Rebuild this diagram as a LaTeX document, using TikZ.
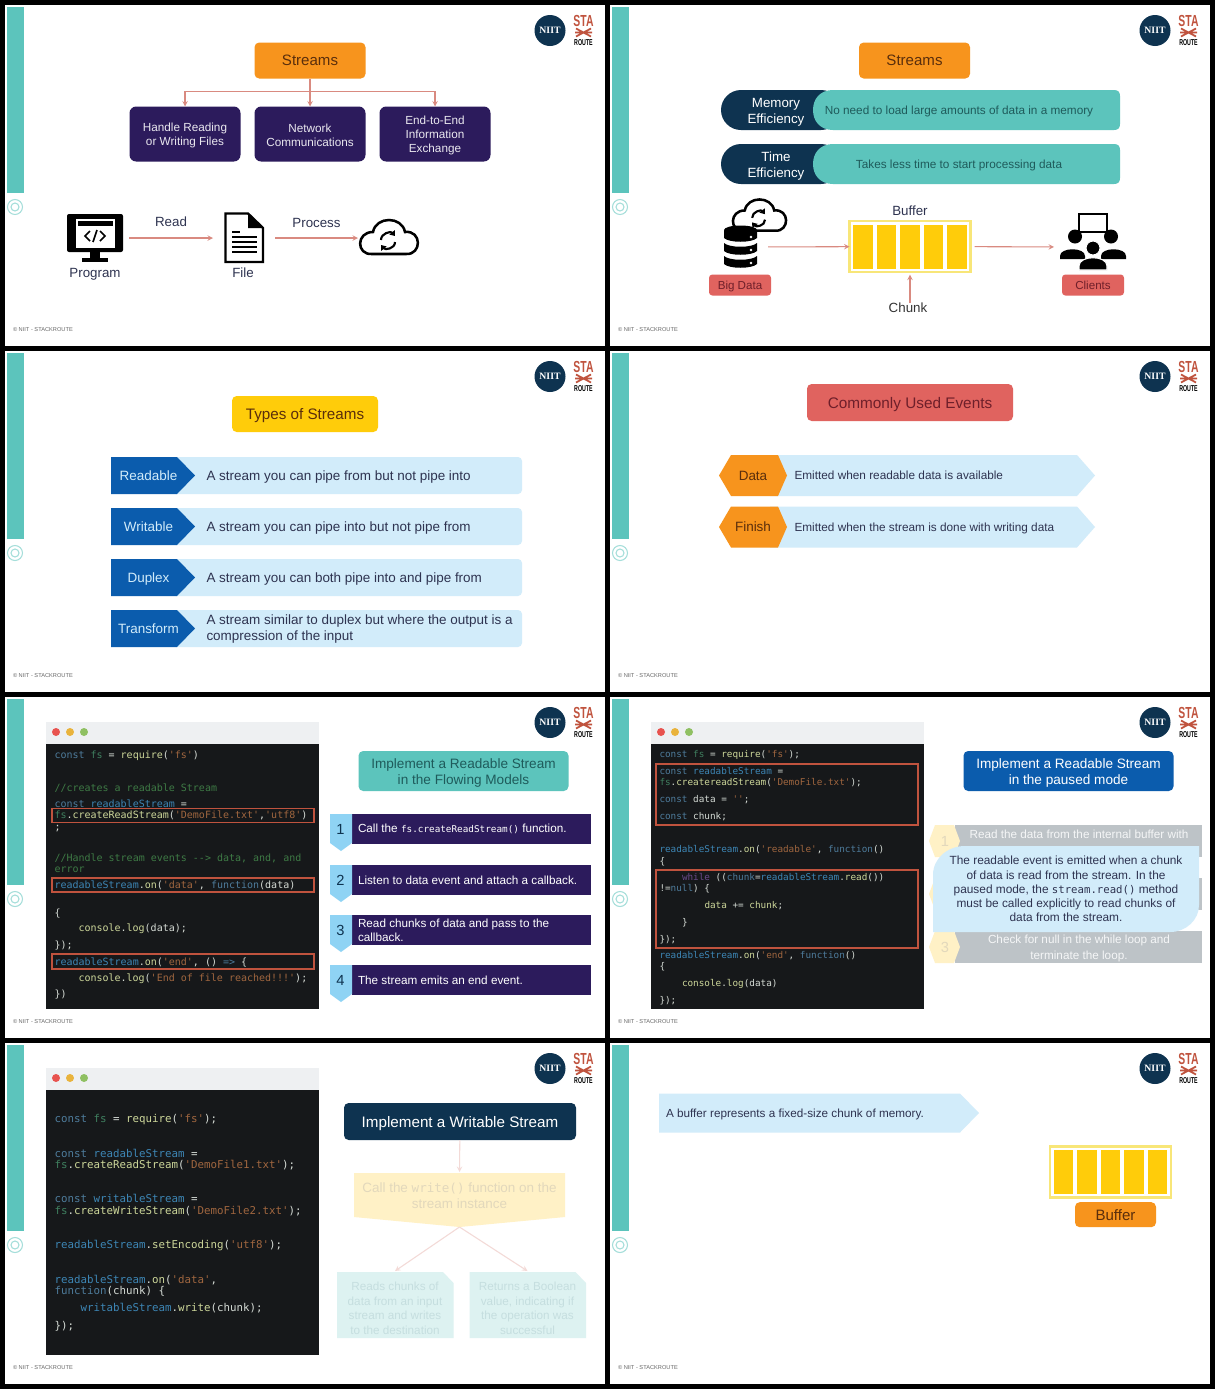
\documentclass[tikz,border=0pt]{standalone}
\usepackage{fontspec}
\setmainfont{Liberation Sans}
\setmonofont{DejaVu Sans Mono}
\newfontfamily\logofont{Liberation Serif}
\usepackage{tikz}
\usetikzlibrary{positioning, arrows.meta}

\definecolor{teal_bar}{HTML}{5CC4BC}
\definecolor{teal_ring}{HTML}{A5DEDA}
\definecolor{teal_ink}{HTML}{1F5B5B}
\definecolor{navy_dark}{HTML}{0E3350}
\definecolor{purple_dark}{HTML}{2C1B5C}
\definecolor{orange_box}{HTML}{F7941D}
\definecolor{orange_ink}{HTML}{5A2E0C}
\definecolor{yellow_box}{HTML}{FFCC0A}
\definecolor{yellow_rim}{HTML}{F8E678}
\definecolor{red_box}{HTML}{E0635F}
\definecolor{red_ink}{HTML}{6E1F2A}
\definecolor{blue_box}{HTML}{0B5CAD}
\definecolor{blue_pale}{HTML}{D2ECFA}
\definecolor{blue_tab}{HTML}{8FD3F4}
\definecolor{slate_ink}{HTML}{2E3350}
\definecolor{edge_red}{HTML}{D98A80}
\definecolor{edge_pale}{HTML}{F3DAD7}
\definecolor{code_bg}{HTML}{16181A}
\definecolor{code_bar}{HTML}{EEF0F2}
\definecolor{code_txt}{HTML}{D5DBD5}
\definecolor{code_kw}{HTML}{4E7C9C}
\definecolor{code_vr}{HTML}{3F7F5F}
\definecolor{code_id}{HTML}{3D86B5}
\definecolor{code_st}{HTML}{A0663F}
\definecolor{code_cm}{HTML}{3E7A45}
\definecolor{code_fn}{HTML}{CDD79A}
\definecolor{code_wh}{HTML}{6A4A8A}
\definecolor{mark_red}{HTML}{C0533E}
\definecolor{gray_row}{HTML}{BDC3C7}
\definecolor{yellow_pale}{HTML}{FFF1C6}
\definecolor{yellow_txt}{HTML}{E2D8BC}
\definecolor{note_pale}{HTML}{DDF2F1}
\definecolor{note_txt}{HTML}{C5DEDF}
\definecolor{dot_red}{HTML}{E8534F}
\definecolor{dot_amber}{HTML}{E9B33C}
\definecolor{dot_green}{HTML}{8FC062}

\newcommand{\sz}[2]{\fontsize{#1}{#2}\selectfont}
\newcommand{\liftline}{\rule{0pt}{0.98em}}
\newcommand{\cKw}[1]{\textcolor{code_kw}{#1}}
\newcommand{\cVr}[1]{\textcolor{code_vr}{#1}}
\newcommand{\cId}[1]{\textcolor{code_id}{#1}}
\newcommand{\cSt}[1]{\textcolor{code_st}{#1}}
\newcommand{\cCm}[1]{\textcolor{code_cm}{#1}}
\newcommand{\cFn}[1]{\textcolor{code_fn}{#1}}

\newcommand{\slideframe}[3]{
  \begin{scope}[shift={(#1,#2)}]
    \node[fill=white, box={600}{341}] (Page#3) at (305,175.5) {};
    \node[fill=teal_bar, box={17}{186}] (Bar#3) at (15.5,100) {};
    \node[circle, draw=teal_ring, line width=0.8pt, box={15}{15}] (Ring#3) at (15,207) {};
    \node[circle, draw=teal_ring, line width=0.8pt, box={8}{8}] (Dot#3) at (15,207) {};
    \node[circle, fill=navy_dark, box={31}{31}, text=white, font=\logofont\bfseries\sz{7.3pt}{8pt}] (Niit#3) at (550,30.5) {NIIT};
    \node[text=mark_red, font=\bfseries\sz{12pt}{12pt}] (Sta#3) at (583.5,21) {\scalebox{.65}[1]{STA}};
    \draw[mark_red, line width=1.3pt] (576,28.5) -- (591,36.5) (591,28.5) -- (576,36.5) (575,32.5) -- (592,32.5);
    \node[text=black, font=\bfseries\sz{6.4pt}{7pt}] (Route#3) at (583.5,42.5) {\scalebox{.62}[1]{ROUTE}};
    \node[anchor=west, text=black!60, font=\sz{4.25pt}{5pt}] (Foot#3) at (13,329.5) {© NIIT - STACKROUTE};
  \end{scope}
}
\newcommand{\cloudicon}[4]{
  \begin{scope}[shift={(#2,#3)}, scale=#4]
    \coordinate (#1) at (0,0);
    \draw[fill=white, line width=1.9pt] (-17,16) .. controls (-33,17) and (-33,-6) .. (-16,-6) .. controls (-13,-22) and (13,-22) .. (16,-6) .. controls (33,-8) and (33,17) .. (17,16) -- cycle;
    \draw[sync_arrow] (-8,2) .. controls (-8,-5) and (2,-7) .. (6,-2);
    \draw[sync_arrow] (6,4) .. controls (6,11) and (-4,12) .. (-8,7);
  \end{scope}
}
\newcommand{\bufferbars}[3]{
  \node[draw=yellow_rim, fill=white, line width=1.6pt, box={121}{51}] (#1) at (#2,#3) {};
  \begin{scope}[shift={(#2,#3)}]
    \fill[yellow_box] (-57,-22) rectangle (-37.5,22);
    \fill[yellow_box] (-33.5,-22) rectangle (-14,22);
    \fill[yellow_box] (-10,-22) rectangle (9.5,22);
    \fill[yellow_box] (13.5,-22) rectangle (33,22);
    \fill[yellow_box] (37,-22) rectangle (56.5,22);
  \end{scope}
}
\newcommand{\dbring}[1]{
  \fill (724,#1) -- (724,#1+8) .. controls (729,#1+13) and (752,#1+13) .. (757,#1+8) -- (757,#1) .. controls (752,#1+5) and (729,#1+5) .. (724,#1) -- cycle;
  \fill[white] (751,#1+7) circle[radius=1.3];
}
\newcommand{\pillrow}[4]{
  \node[fill=navy_dark, rounded corners=15pt, box={120}{40}] (#1) at (781,#2) {};
  \begin{scope}[shift={(0,#2)}]
    \fill[teal_bar] (833,-20) -- (1114,-20) .. controls (1118,-20) and (1120,-18) .. (1120,-14) -- (1120,14) .. controls (1120,18) and (1118,20) .. (1114,20) -- (833,20) .. controls (820,20) and (813,11) .. (813,0) .. controls (813,-11) and (820,-20) .. (833,-20) -- cycle;
  \end{scope}
  \node[text=white, align=center, font=\sz{10pt}{12.2pt}] (#1Head) at (776,#2) {\liftline#3};
  \node[text=teal_ink, text depth=0pt, font=\sz{8.83pt}{10pt}] (#1Text) at (959,#2) {#4};
}
\newcommand{\typerow}[5][text depth=0pt]{
  \node[fill=blue_pale, rounded corners=3pt, box={350}{37}] (#2Back) at (347,#3) {};
  \begin{scope}[shift={(0,#3)}]
    \fill[blue_box] (111,-18.5) -- (177,-18.5) -- (195,0) -- (177,18.5) -- (111,18.5) -- cycle;
  \end{scope}
  \node[text=blue_pale, text depth=0pt, font=\sz{10.1pt}{12pt}] (#2) at (148.5,#3) {#4};
  \node[anchor=west, align=left, #1, text=slate_ink, font=\sz{10.1pt}{12.3pt}] (#2Text) at (206.5,#3) {#5};
}
\newcommand{\eventrow}[4]{
  \begin{scope}[shift={(0,#2)}]
    \fill[blue_pale] (770,-20.5) -- (1077,-20.5) -- (1095,0) -- (1077,20.5) -- (770,20.5) -- cycle;
    \fill[orange_box] (719,0) -- (731,-20.5) -- (778,-20.5) -- (787,0) -- (778,20.5) -- (731,20.5) -- cycle;
  \end{scope}
  \node[text=orange_ink, text depth=0pt, font=\sz{10.1pt}{12pt}] (#1) at (753,#2) {#3};
  \node[anchor=west, text depth=0pt, text=slate_ink, font=\sz{8.85pt}{10pt}] (#1Text) at (794.5,#2) {#4};
}
\newcommand{\stepbar}[4]{
  \node[fill=purple_dark, box={239}{30}] (#1) at (471.5,#2+15) {};
  \begin{scope}[shift={(0,#2)}]
    \fill[blue_tab] (330,0) -- (352,0) -- (352,29) -- (341,37) -- (330,29) -- cycle;
  \end{scope}
  \node[text=navy_dark, font=\sz{11pt}{12pt}] (#1Num) at (340.5,#2+15) {#3};
  \node[anchor=west, align=left, text=white, font=\sz{8.8pt}{10.7pt}] (#1Text) at (358,#2+15) {#4};
}
\newcommand{\pausedrow}[4]{
  \node[fill=gray_row, box={247}{32}] (#1) at (1078.5,#2) {};
  \begin{scope}[shift={(0,#2)}]
    \fill[yellow_pale] (929,0) -- (935,-16) -- (954,-16) -- (960,0) -- (954,16) -- (935,16) -- cycle;
  \end{scope}
  \node[text=yellow_txt, font=\sz{11pt}{12pt}] (#1Num) at (945,#2) {#3};
  \node[align=center, text=white!85!gray_row, font=\sz{8.8pt}{11.8pt}] (#1Text) at (1079,#2) {\liftline#4};
}
\newcommand{\notebox}[4]{
  \begin{scope}[shift={(#2,0)}]
    \fill[note_pale] (0,1272) -- (106,1272) -- (116.5,1283) -- (116.5,1338) -- (0,1338) -- cycle;
  \end{scope}
  \node[align=center, text=note_txt, font=\sz{8.8pt}{10.9pt}] (#1Text) at (#3,1308.5) {#4};
  \coordinate (#1) at (#3,1271);
}

\begin{document}
\begin{tikzpicture}[
    x=0.75pt, y=-0.75pt,
    inner sep=0pt, outer sep=0pt,
    box/.style 2 args={minimum width=#1*0.75pt, minimum height=#2*0.75pt},
    round_box/.style={rounded corners=3.5pt},
    stream_box/.style={round_box, fill=orange_box, text=orange_ink, box={111}{36}, font=\sz{11.3pt}{13pt}},
    use_box/.style={rounded corners=5pt, fill=purple_dark, text=white!90!purple_dark, box={111}{55}, align=center, font=\sz{8.8pt}{10.7pt}},
    tag_box/.style={rounded corners=2.5pt, fill=red_box, text=red_ink, text depth=0pt, box={62}{21}, font=\sz{8.7pt}{10pt}},
    title_box/.style={round_box, box={210}{40}, align=center, font=\sz{10.2pt}{12.3pt}},
    plain_label/.style={text=slate_ink, text depth=0pt, font=\sz{10pt}{12pt}},
    ghost_node/.style={box={#1}{50}},
    edge_flow/.style={->, >=stealth, draw=edge_red, line width=0.8pt},
    edge_faint/.style={->, >=stealth, draw=edge_pale, line width=0.8pt},
    sync_arrow/.style={-{Triangle[length=3.5pt,width=5pt]}, line width=1.6pt},
    code_line/.style={anchor=base west, text=code_txt},
    code_small/.style={code_line, font=\ttfamily\sz{7pt}{8pt}},
    code_mid/.style={code_line, font=\ttfamily\sz{7.5pt}{9pt}},
    code_big/.style={code_line, font=\ttfamily\sz{8.1pt}{9pt}},
    code_mark/.style={draw=mark_red, line width=0.8pt}
  ]
  \fill[black] (0,0) rectangle (1215,1389);
  \useasboundingbox (0,0) rectangle (1215,1389);
  \slideframe{0}{0}{A}
  \slideframe{605}{0}{B}
  \slideframe{0}{346}{C}
  \slideframe{605}{346}{D}
  \slideframe{0}{692}{E}
  \slideframe{605}{692}{F}
  \slideframe{0}{1038}{G}
  \slideframe{605}{1038}{H}

  \node[stream_box] (Streams) at (310,60.5) {Streams};
  \node[use_box, below=21pt of Streams] (Network) {\liftline Network\\Communications};
  \node[use_box, left=10.5pt of Network] (Handle) {\liftline Handle Reading\\or Writing Files};
  \node[use_box, right=10.5pt of Network] (EndToEnd) {\liftline End-to-End\\Information\\Exchange};
  \coordinate (Fork) at (310,91.5);
  \draw[edge_flow] (Streams) -- (Network);
  \draw[edge_flow] (Fork) -| (Handle);
  \draw[edge_flow] (Fork) -| (EndToEnd);

  \node[ghost_node=68] (Program) at (95,238) {};
  \node[ghost_node=62] (File) at (244,238) {};
  \node[ghost_node=62] (Cloud) at (389,238) {};
  \node[plain_label] (ProgramText) at (95,272.5) {Program};
  \node[plain_label] (FileText) at (243,272.5) {File};
  \draw[edge_flow] (Program) -- node[plain_label, above=8.5pt] (ReadText) {Read} (File);
  \draw[edge_flow] (File) -- node[plain_label, above=8pt] (ProcessText) {Process} (Cloud);
  \fill[rounded corners=1.5pt] (67,214) rectangle (123,252);
  \fill[white] (75.5,219) rectangle (115,248);
  \fill (77.5,220.5) rectangle (113,226);
  \fill (90,252) rectangle (100,258);
  \fill (82,258) rectangle (108,262);
  \draw[line width=1.3pt] (90,231) -- (85,236) -- (90,241) (93,242) -- (97,230) (100,231) -- (105,236) -- (100,241);
  \draw[line width=1.8pt] (225.5,213.5) -- (248,213.5) -- (263,228) -- (263,262) -- (225.5,262) -- cycle;
  \fill (248,213.5) -- (248,228) -- (263,228) -- cycle;
  \draw[line width=1.2pt] (232,232) -- (240,232) (232,237) -- (257,237) (232,242) -- (257,242) (232,247) -- (257,247) (232,252) -- (257,252);
  \cloudicon{CloudIcon}{389}{238}{1}

  \node[stream_box] (StreamsB) at (914.5,60.5) {Streams};
  \pillrow{Memory}{110}{Memory\\Efficiency}{No need to load large amounts of data in a memory}
  \pillrow{Time}{164}{Time\\Efficiency}{Takes less time to start processing data}
  \cloudicon{CloudB}{759.5}{216}{0.92}
  \dbring{256}
  \dbring{243}
  \dbring{230}
  \fill (740.5,230) ellipse[x radius=16.5, y radius=4.5];
  \node[ghost_node=55] (Data) at (740.5,247) {};
  \node[tag_box] (BigData) at (740,285) {Big Data};
  \bufferbars{Buf}{910}{246.5}
  \node[plain_label, above=4pt of Buf] (BufText) {Buffer};
  \node[plain_label, text=black!80] (Chunk) at (908,308) {Chunk};
  \node[ghost_node=78] (Clients) at (1093,247) {};
  \node[tag_box] (ClientsTag) at (1093,285) {Clients};
  \draw[line width=1.8pt] (1079,214) rectangle (1107,232);
  \fill (1075,236.5) circle[radius=7];
  \fill (1111,236.5) circle[radius=7];
  \fill (1060,259) -- (1060,256) .. controls (1060,247) and (1085,247) .. (1085,256) -- (1085,259) -- cycle;
  \fill (1101,259) -- (1101,256) .. controls (1101,247) and (1126,247) .. (1126,256) -- (1126,259) -- cycle;
  \fill[draw=white, line width=0.8pt] (1079,270) -- (1079,266) .. controls (1079,255) and (1107,255) .. (1107,266) -- (1107,270) -- cycle;
  \fill[draw=white, line width=0.8pt] (1093,248) circle[radius=7];
  \draw[edge_flow] (Data) -- (Buf);
  \draw[edge_flow, shorten <=3pt] (Buf) -- (Clients);
  \draw[edge_flow, shorten >=2pt] (Chunk.north -| Buf.south) -- (Buf.south);

  \node[round_box, fill=yellow_box, text=orange_ink, text depth=0pt, box={146}{36}, font=\sz{11.4pt}{13pt}] (Types) at (305,414) {Types of Streams};
  \typerow{Readable}{475.5}{Readable}{A stream you can pipe from but not pipe into}
  \typerow{Writable}{526.5}{Writable}{A stream you can pipe into but not pipe from}
  \typerow{Duplex}{577.5}{Duplex}{A stream you can both pipe into and pipe from}
  \typerow[yshift=-0.6pt]{Transform}{628.5}{Transform}{A stream similar to duplex but where the output is a\\compression of the input}

  \node[round_box, fill=red_box, text=red_ink, text depth=0pt, box={206}{37}, font=\sz{11.5pt}{13pt}] (Events) at (910,402.5) {Commonly Used Events};
  \eventrow{DataEv}{475.5}{Data}{Emitted when readable data is available}
  \eventrow{FinishEv}{527}{Finish}{Emitted when the stream is done with writing data}

  \node[fill=code_bar, box={273}{22}] (BarE) at (182.5,733) {};
  \node[fill=code_bg, box={273}{265}] (CodeE) at (182.5,876.5) {};
  \fill[dot_red] (56,732) circle[radius=4];
  \fill[dot_amber] (70,732) circle[radius=4];
  \fill[dot_green] (84,732) circle[radius=4];
  \node[code_mid] (LineE1) at (54.5,758) {\cKw{const} \cVr{fs} = \cFn{require}(\cSt{'fs'})};
  \node[code_mid, text=code_cm] (LineE2) at (54.5,791) {//creates a readable Stream};
  \node[code_mid] (LineE3) at (54.5,807) {\cKw{const} \cId{readableStream} =};
  \node[code_mid] (LineE4) at (54.5,818) {\cVr{fs}.\cFn{createReadStream}(\cSt{'DemoFile.txt'},\cSt{'utf8'})};
  \node[code_mid] (LineE5) at (54.5,830) {;};
  \node[code_mid, text=code_cm] (LineE6) at (54.5,861) {//Handle stream events --> data, and, and};
  \node[code_mid, text=code_cm] (LineE7) at (54.5,872) {error};
  \node[code_mid] (LineE8) at (54.5,888) {\cId{readableStream}.\cFn{on}(\cSt{'data'}, \cKw{function}(data)};
  \node[code_mid] (LineE9) at (54.5,916) {\{};
  \node[code_mid] (LineE10) at (78.5,931) {\cFn{console}.\cFn{log}(data);};
  \node[code_mid] (LineE11) at (54.5,948) {\});};
  \node[code_mid] (LineE12) at (54.5,965) {\cId{readableStream}.\cFn{on}(\cSt{'end'}, () \cKw{=>} \{};
  \node[code_mid] (LineE13) at (78.5,981) {\cFn{console}.\cFn{log}(\cSt{'End of file reached!!!'});};
  \node[code_mid] (LineE14) at (54.5,997) {\})};
  \node[code_mark, box={262}{14}] (MarkE1) at (183,815.5) {};
  \node[code_mark, box={262}{14}] (MarkE2) at (183,885) {};
  \node[code_mark, box={262}{15}] (MarkE3) at (183,961.5) {};
  \node[title_box, fill=teal_bar, text=teal_ink] (TitleE) at (463.5,771) {\liftline Implement a Readable Stream\\in the Flowing Models};
  \stepbar{StepA}{814}{1}{Call the {\ttfamily\sz{7pt}{8pt}fs.createReadStream()} function.}
  \stepbar{StepB}{865}{2}{Listen to data event and attach a callback.}
  \stepbar{StepC}{915}{3}{Read chunks of data and pass to the\\callback.}
  \stepbar{StepD}{965}{4}{The stream emits an end event.}

  \node[fill=code_bar, box={273}{22}] (BarF) at (787.5,733) {};
  \node[fill=code_bg, box={273}{265}] (CodeF) at (787.5,876.5) {};
  \fill[dot_red] (661,732) circle[radius=4];
  \fill[dot_amber] (675,732) circle[radius=4];
  \fill[dot_green] (689,732) circle[radius=4];
  \node[code_small] (LineF1) at (659.5,757) {\cKw{const} \cVr{fs} = \cFn{require}(\cSt{'fs'});};
  \node[code_small] (LineF2) at (659.5,774) {\cKw{const} \cId{readableStream} =};
  \node[code_small] (LineF3) at (659.5,785) {\cVr{fs}.\cFn{createreadStream}(\cSt{'DemoFile.txt'});};
  \node[code_small] (LineF4) at (659.5,802) {\cKw{const} data = \cSt{''};};
  \node[code_small] (LineF5) at (659.5,819) {\cKw{const} chunk;};
  \node[code_small] (LineF6) at (659.5,852) {\cId{readableStream}.\cFn{on}(\cSt{'readable'}, \cKw{function}()};
  \node[code_small] (LineF7) at (659.5,864) {\{};
  \node[code_small] (LineF8) at (682,880) {\textcolor{code_wh}{while} ((\cKw{chunk}=\cId{readableStream}.\cFn{read}())};
  \node[code_small] (LineF9) at (659.5,891) {!=\cKw{null}) \{};
  \node[code_small] (LineF10) at (704.5,908) {\cFn{data} += \cFn{chunk};};
  \node[code_small] (LineF11) at (682,925) {\}};
  \node[code_small] (LineF12) at (659.5,942) {\});};
  \node[code_small] (LineF13) at (659.5,958) {\cId{readableStream}.\cFn{on}(\cSt{'end'}, \cKw{function}()};
  \node[code_small] (LineF14) at (659.5,969) {\{};
  \node[code_small] (LineF15) at (682,986) {\cFn{console}.\cFn{log}(data)};
  \node[code_small] (LineF16) at (659.5,1003) {\});};
  \node[code_mark, box={262}{61}] (MarkF1) at (787,794.5) {};
  \node[code_mark, box={262}{78}] (MarkF2) at (787,909) {};
  \node[title_box, fill=blue_box, text=white] (TitleF) at (1068.5,771) {\liftline Implement a Readable Stream\\in the paused mode};
  \pausedrow{RowA}{841}{1}{Read the data from the internal buffer with\\\mbox{}}
  \pausedrow{RowB}{894}{2}{}
  \pausedrow{RowC}{947}{3}{Check for null in the while loop and\\terminate the loop.}
  \fill[blue_pale] (933,932) -- (933,875) .. controls (933,858) and (948,846) .. (965,846) -- (1199,846) -- (1199,905) .. controls (1199,920) and (1186,932) .. (1170,932) -- cycle;
  \node[align=center, text=slate_ink, font=\sz{8.9pt}{10.6pt}] (CallNote) at (1066,889) {The readable event is emitted when a chunk\\of data is read from the stream. In the\\paused mode, the {\ttfamily\sz{8pt}{9pt}stream.read()} method\\must be called explicitly to read chunks of\\data from the stream.};

  \node[fill=code_bar, box={273}{22}] (BarG) at (182.5,1079) {};
  \node[fill=code_bg, box={273}{265}] (CodeG) at (182.5,1222.5) {};
  \fill[dot_red] (56,1078) circle[radius=4];
  \fill[dot_amber] (70,1078) circle[radius=4];
  \fill[dot_green] (84,1078) circle[radius=4];
  \node[code_big] (LineG1) at (54.5,1122) {\cKw{const} \cVr{fs} = \cFn{require}(\cSt{'fs'});};
  \node[code_big] (LineG2) at (54.5,1157) {\cKw{const} \cId{readableStream} =};
  \node[code_big] (LineG3) at (54.5,1168) {\cVr{fs}.\cFn{createReadStream}(\cSt{'DemoFile1.txt'});};
  \node[code_big] (LineG4) at (54.5,1202) {\cKw{const} \cId{writableStream} =};
  \node[code_big] (LineG5) at (54.5,1214) {\cVr{fs}.\cFn{createWriteStream}(\cSt{'DemoFile2.txt'});};
  \node[code_big] (LineG6) at (54.5,1248) {\cId{readableStream}.\cFn{setEncoding}(\cSt{'utf8'});};
  \node[code_big] (LineG7) at (54.5,1283) {\cId{readableStream}.\cFn{on}(\cSt{'data'},};
  \node[code_big] (LineG8) at (54.5,1294) {\cKw{function}(chunk) \{};
  \node[code_big] (LineG9) at (80.5,1311) {\cId{writableStream}.\cFn{write}(chunk);};
  \node[code_big] (LineG10) at (54.5,1329) {\});};
  \node[round_box, fill=navy_dark, text=white, text depth=0pt, box={232}{37}, font=\sz{11.4pt}{13pt}] (TitleG) at (460,1121.5) {Implement a Writable Stream};
  \fill[yellow_pale] (354,1173) -- (565,1173) -- (565,1217) -- (459.5,1227) -- (354,1217) -- cycle;
  \node[align=center, text=yellow_txt, font=\sz{10.1pt}{12pt}] (CallWrite) at (459.5,1196) {Call the {\ttfamily\sz{9.4pt}{10pt}write()} function on the\\stream instance};
  \coordinate (WriteTop) at (459.5,1172);
  \coordinate (WriteTip) at (459.5,1227);
  \notebox{NoteLeft}{337}{395}{Reads chunks of\\data from an input\\stream and writes\\to the destination}
  \notebox{NoteRight}{469.5}{527.5}{Returns a Boolean\\value, indicating if\\the operation was\\successful}
  \draw[edge_faint] (TitleG) -- (WriteTop);
  \draw[edge_faint] (WriteTip) -- (NoteLeft);
  \draw[edge_faint] (WriteTip) -- (NoteRight);

  \begin{scope}[shift={(0,1113)}]
    \fill[blue_pale] (659,-19.5) -- (960,-19.5) -- (979,0) -- (960,19.5) -- (659,19.5) -- cycle;
  \end{scope}
  \node[anchor=west, text depth=0pt, text=slate_ink, font=\sz{8.8pt}{10pt}] (BufferText) at (666,1113) {A buffer represents a fixed-size chunk of memory.};
  \bufferbars{BufH}{1110.5}{1172}
  \node[round_box, fill=orange_box, text=orange_ink, box={81}{25}, below=3.5pt of BufH, xshift=3.75pt, font=\sz{11.3pt}{13pt}] (BufferTag) {Buffer};
\end{tikzpicture}
\end{document}
